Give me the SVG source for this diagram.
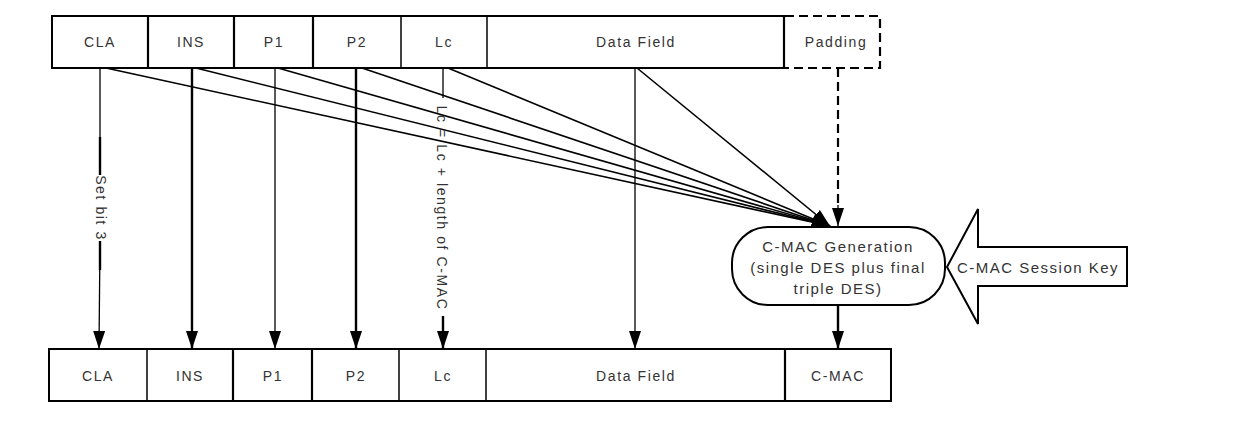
<svg xmlns="http://www.w3.org/2000/svg" width="1238" height="438" viewBox="0 0 1238 438">
<style>
.cell{fill:#fff;stroke:#000;stroke-width:2}
.div{stroke:#000;stroke-width:1.5}
.divb{stroke:#000;stroke-width:2.2}
.lbl{font-family:"Liberation Sans",Arial,sans-serif;font-size:14px;letter-spacing:1.6px;fill:#333;text-anchor:middle;dominant-baseline:central}
.big{font-family:"Liberation Sans",Arial,sans-serif;font-size:15px;letter-spacing:1.5px;fill:#333;text-anchor:middle;dominant-baseline:central}
.thin{stroke:#000;stroke-width:1.3;fill:none}
.thick{stroke:#000;stroke-width:2.4;fill:none}
.fan{stroke:#000;stroke-width:1.6;fill:none}
.dash{stroke:#000;stroke-width:2.2;fill:none;stroke-dasharray:9 5}
</style>
<defs>
<marker id="ah" markerUnits="userSpaceOnUse" markerWidth="20" markerHeight="14" refX="18" refY="6" orient="auto">
<path d="M0,0 L18,6 L0,12 z" fill="#000"/>
</marker>
</defs>

<g id="top-row">
<rect class="cell" x="52" y="16" width="732" height="52"/>
<line class="divb" x1="148" y1="16" x2="148" y2="68"/>
<line class="divb" x1="234" y1="16" x2="234" y2="68"/>
<line class="divb" x1="313" y1="16" x2="313" y2="68"/>
<line class="div" x1="401" y1="16" x2="401" y2="68"/>
<line class="div" x1="487" y1="16" x2="487" y2="68"/>
<line class="divb" x1="784" y1="16" x2="784" y2="68"/>
<text class="lbl" x="100" y="42">CLA</text>
<text class="lbl" x="191" y="42">INS</text>
<text class="lbl" x="274" y="42">P1</text>
<text class="lbl" x="357" y="42">P2</text>
<text class="lbl" x="444" y="42">Lc</text>
<text class="lbl" x="636" y="42">Data Field</text>
</g>

<g id="padding">
<path class="dash" d="M785,16 L880,16 L880,68 L785,68"/>
<text class="lbl" x="836" y="42">Padding</text>
</g>

<g id="bottom-row">
<rect class="cell" x="49" y="349" width="842" height="52"/>
<line class="div" x1="147" y1="349" x2="147" y2="401"/>
<line class="divb" x1="233" y1="349" x2="233" y2="401"/>
<line class="divb" x1="312" y1="349" x2="312" y2="401"/>
<line class="div" x1="399" y1="349" x2="399" y2="401"/>
<line class="div" x1="486" y1="349" x2="486" y2="401"/>
<line class="divb" x1="785" y1="349" x2="785" y2="401"/>
<text class="lbl" x="98" y="376">CLA</text>
<text class="lbl" x="190" y="376">INS</text>
<text class="lbl" x="273" y="376">P1</text>
<text class="lbl" x="356" y="376">P2</text>
<text class="lbl" x="443" y="376">Lc</text>
<text class="lbl" x="636" y="376">Data Field</text>
<text class="lbl" x="838" y="376">C-MAC</text>
</g>

<g id="cmac-gen">
<rect x="732" y="227" width="213" height="78" rx="36" ry="36" fill="#fff" stroke="#000" stroke-width="2"/>
<text class="big" x="838" y="246">C-MAC Generation</text>
<text class="big" x="838" y="267">(single DES plus final</text>
<text class="big" x="838" y="288">triple DES)</text>
</g>

<g id="session-key">
<polygon points="947,267 978,209 978,247 1127,247 1127,286 978,286 978,324" fill="#fff" stroke="#000" stroke-width="2"/>
<text class="big" x="1038" y="267">C-MAC Session Key</text>
</g>

<g id="connectors">
<line class="fan" x1="106" y1="68" x2="830" y2="226" marker-end="url(#ah)"/>
<line class="fan" x1="196" y1="68" x2="830" y2="226" marker-end="url(#ah)"/>
<line class="fan" x1="278" y1="68" x2="830" y2="226" marker-end="url(#ah)"/>
<line class="fan" x1="362" y1="68" x2="830" y2="226" marker-end="url(#ah)"/>
<line class="fan" x1="448" y1="68" x2="830" y2="226" marker-end="url(#ah)"/>
<line class="fan" x1="637" y1="68" x2="830" y2="226" marker-end="url(#ah)"/>
<line class="dash" x1="838" y1="68" x2="838" y2="208"/>
<line class="thin" x1="838" y1="205" x2="838" y2="226" marker-end="url(#ah)"/>

<line class="thin" x1="100" y1="68" x2="100" y2="175"/>
<line class="thick" x1="100" y1="137" x2="100" y2="175"/>
<line class="thin" x1="100" y1="241" x2="99" y2="349" marker-end="url(#ah)"/>
<line class="thick" x1="100" y1="241" x2="100" y2="270"/>
<text class="lbl" transform="translate(101,208) rotate(90)" x="0" y="0">Set bit 3</text>

<line class="thick" x1="192" y1="68" x2="192" y2="349" marker-end="url(#ah)"/>
<line class="thin" x1="275" y1="68" x2="275" y2="349" marker-end="url(#ah)"/>
<line class="thick" x1="356" y1="68" x2="356" y2="349" marker-end="url(#ah)"/>

<line class="thin" x1="443" y1="68" x2="443" y2="98"/>
<line class="thick" x1="443" y1="316" x2="443" y2="349" marker-end="url(#ah)"/>
<text class="lbl" transform="translate(442,208) rotate(90)" x="0" y="0">Lc = Lc + length of C-MAC</text>

<line class="thin" x1="635" y1="68" x2="635" y2="349" marker-end="url(#ah)"/>
<line class="thick" x1="838" y1="305" x2="838" y2="349" marker-end="url(#ah)"/>
</g>
</svg>
